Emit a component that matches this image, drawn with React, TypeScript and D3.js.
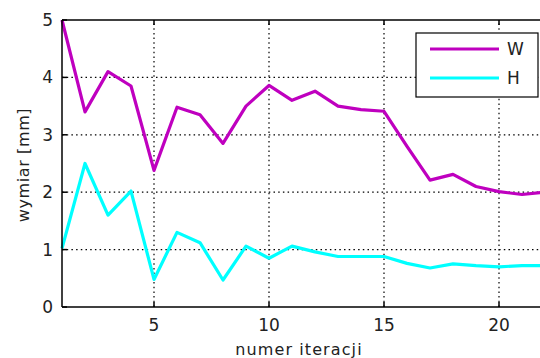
import React, { useEffect, useRef } from "react";
import * as d3 from "d3";

const iterations = d3.range(1, 23);
const wValues = [5.0, 3.4, 4.1, 3.85, 2.38, 3.48, 3.35, 2.85, 3.5, 3.86, 3.6, 3.76, 3.5, 3.44, 3.41, 2.8, 2.21, 2.31, 2.1, 2.01, 1.96, 2.0];
const hValues = [1.02, 2.5, 1.6, 2.02, 0.48, 1.3, 1.12, 0.47, 1.06, 0.85, 1.06, 0.96, 0.88, 0.88, 0.88, 0.76, 0.68, 0.75, 0.72, 0.7, 0.72, 0.72];
const xTicks = [5, 10, 15, 20];
const yTicks = [0, 1, 2, 3, 4, 5];
const seriesNames = ["W", "H"];
const seriesColors = ["#bf00bf", "#00ffff"];

const App = () => {
  const svgRef = useRef<SVGSVGElement>(null);

  useEffect(() => {
    const width = 540;
    const height = 358;
    const margin = { top: 20, left: 62, bottom: 51, right: -5 };

    const svg = d3.select(svgRef.current);
    svg.selectAll("*").remove();
    svg.attr("width", width).attr("height", height);

    const x = d3.scaleLinear().domain([1, 22]).range([margin.left, width - margin.right]);
    const y = d3.scaleLinear().domain([0, 5]).range([height - margin.bottom, margin.top]);

    const font = "'DejaVu Sans', Arial, sans-serif";

    // siatka
    const grid = svg.append("g").attr("stroke", "#000").attr("stroke-width", 1.2).attr("stroke-dasharray", "1.5,3.2");
    xTicks.forEach((t) => {
      grid.append("line").attr("x1", x(t)).attr("x2", x(t)).attr("y1", y(0)).attr("y2", y(5));
    });
    yTicks.slice(1, 5).forEach((t) => {
      grid.append("line").attr("x1", x(1)).attr("x2", x(22)).attr("y1", y(t)).attr("y2", y(t));
    });

    // serie
    const line = d3.line<number>().x((_, i) => x(iterations[i])).y((d) => y(d));
    [wValues, hValues].forEach((vals, i) => {
      svg.append("path")
        .datum(vals)
        .attr("d", line)
        .attr("fill", "none")
        .attr("stroke", seriesColors[i])
        .attr("stroke-width", 3.2)
        .attr("stroke-linejoin", "round");
    });

    // ramka osi
    const frame = svg.append("g").attr("stroke", "#000").attr("stroke-width", 1.5).attr("fill", "none");
    frame.append("line").attr("x1", x(1)).attr("x2", x(22)).attr("y1", y(0)).attr("y2", y(0));
    frame.append("line").attr("x1", x(1)).attr("x2", x(22)).attr("y1", y(5)).attr("y2", y(5));
    frame.append("line").attr("x1", x(1)).attr("x2", x(1)).attr("y1", y(0)).attr("y2", y(5));
    xTicks.forEach((t) => {
      frame.append("line").attr("x1", x(t)).attr("x2", x(t)).attr("y1", y(0)).attr("y2", y(0) - 5);
      frame.append("line").attr("x1", x(t)).attr("x2", x(t)).attr("y1", y(5)).attr("y2", y(5) + 5);
    });
    yTicks.forEach((t) => {
      frame.append("line").attr("x1", x(1)).attr("x2", x(1) + 5).attr("y1", y(t)).attr("y2", y(t));
    });

    // etykiety
    const labels = svg.append("g").attr("font-family", font).attr("font-size", 17).attr("fill", "#222");
    xTicks.forEach((t) => {
      labels.append("text").attr("x", x(t)).attr("y", y(0) + 24).attr("text-anchor", "middle").text(t);
    });
    yTicks.forEach((t) => {
      labels.append("text").attr("x", x(1) - 9).attr("y", y(t) + 6).attr("text-anchor", "end").text(t);
    });

    svg.append("text")
      .attr("x", 299).attr("y", 355)
      .attr("text-anchor", "middle")
      .attr("font-family", font).attr("font-size", 16).attr("letter-spacing", 1.1).attr("fill", "#222")
      .text("numer iteracji");
    svg.append("text")
      .attr("transform", `translate(29, 165) rotate(-90)`)
      .attr("text-anchor", "middle")
      .attr("font-family", font).attr("font-size", 16).attr("letter-spacing", 0.6).attr("fill", "#222")
      .text("wymiar [mm]");

    // legenda
    const lg = svg.append("g").attr("transform", "translate(416, 33)");
    lg.append("rect").attr("width", 122).attr("height", 64).attr("fill", "#fff").attr("stroke", "#000").attr("stroke-width", 1.2);
    seriesNames.forEach((name, i) => {
      const ly = 16 + i * 29;
      lg.append("line").attr("x1", 14).attr("x2", 83).attr("y1", ly).attr("y2", ly)
        .attr("stroke", seriesColors[i]).attr("stroke-width", 3);
      lg.append("text").attr("x", 91).attr("y", ly + 6).attr("font-family", font).attr("font-size", 17).attr("fill", "#222").text(name);
    });
  }, []);

  return (
    <div style={{ position: "absolute", left: 0, top: 0, width: 540, height: 358, overflow: "hidden", background: "#fff" }}>
      <svg ref={svgRef} style={{ display: "block" }}></svg>
    </div>
  );
};

export default App;
